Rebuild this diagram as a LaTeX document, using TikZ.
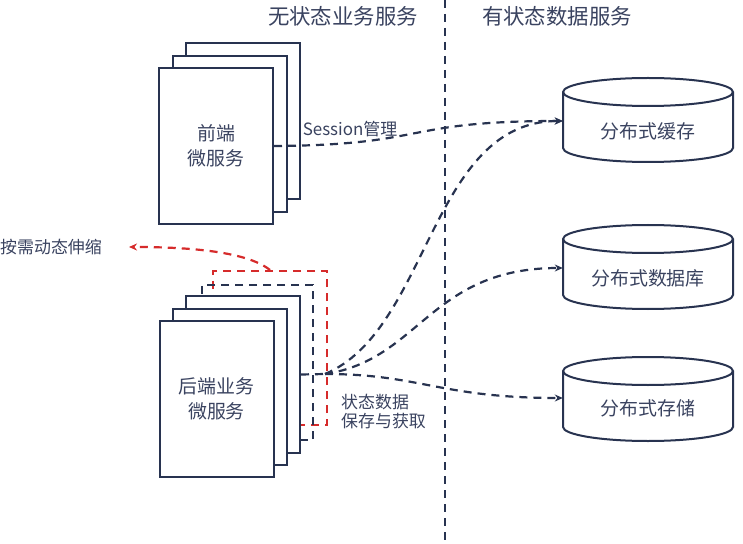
\documentclass[tikz,border=0pt]{standalone}
\usepackage{fontspec}
\setmainfont{Noto Sans CJK SC}
\usetikzlibrary{arrows.meta}
\definecolor{navy}{HTML}{283350}
\definecolor{txt}{HTML}{3A4360}
\definecolor{redd}{HTML}{D62B2B}
\tikzset{
  stackbox/.style={draw=navy, line width=2bp, fill=white, minimum width=114bp, minimum height=156bp, inner sep=0pt},
  dashbox/.style={draw=#1, line width=2bp, dash pattern=on 8bp off 6bp, inner sep=0pt},
  conn/.style={draw=navy, line width=2.2bp, dash pattern=on 8bp off 6bp, -{Stealth[length=8bp,width=7bp]}},
  cyltxt/.style={text=txt, font=\fontsize{19}{22}\selectfont},
  boxtxt/.style={text=txt, font=\fontsize{19}{25}\selectfont, align=center},
  lbl/.style={text=txt, font=\fontsize{17}{19}\selectfont, align=left, inner sep=0pt},
  hdr/.style={text=txt, font=\fontsize{21.5}{24}\selectfont},
  cylspot/.style={minimum width=170bp, minimum height=84bp, inner sep=0pt}
}
\newcommand{\drawcyl}[2]{% center x, top y
  \filldraw[draw=navy, fill=white, line width=2bp]
    (#1-85,#2+70) arc[start angle=180, end angle=360, x radius=85bp, y radius=14bp]
    -- (#1+85,#2+14) arc[start angle=0, end angle=180, x radius=85bp, y radius=14bp] -- cycle;
  \draw[navy, line width=2bp] (#1-85,#2+14) arc[start angle=180, end angle=360, x radius=85bp, y radius=14bp];
}
\begin{document}
\begin{tikzpicture}[x=1bp, y=-1bp]
\useasboundingbox (0,0) rectangle (743,544);
\fill[white] (0,0) rectangle (743,544);

% divider
\coordinate (dtop) at (445,0);
\coordinate (dbot) at (445,544);
\draw[navy, line width=2.2bp, dash pattern=on 8bp off 6bp] (dtop) -- (dbot);

% headers
\node[hdr] (h1) at (343,16) {无状态业务服务};
\node[hdr] (h2) at (557,16) {有状态数据服务};

% front stack
\node[stackbox] (f3) at (243,121.5) {};
\node[stackbox] (f2) at (229.5,134) {};
\node[stackbox, boxtxt] (f1) at (216,146) {前端\\微服务};

% back stack dashed outlines
\node[dashbox=redd, minimum width=114bp, minimum height=154bp] (rs) at (270,348) {};
\node[dashbox=navy, minimum width=111bp, minimum height=155bp] (ds) at (257.5,362.5) {};
\node[stackbox] (b3) at (243,374.5) {};
\node[stackbox] (b2) at (229.5,387) {};
\node[stackbox, boxtxt] (b1) at (216.5,399) {后端业务\\微服务};

% cylinders
\drawcyl{648}{78}
\drawcyl{648}{225}
\drawcyl{648}{357}
\node[cylspot] (c1) at (648,121) {};
\node[cylspot] (c2) at (648,268) {};
\node[cylspot] (c3) at (648,398) {};
\node[cyltxt] (t1) at (648,131) {分布式缓存};
\node[cyltxt] (t2) at (648,278) {分布式数据库};
\node[cyltxt] (t3) at (648,408) {分布式存储};

% labels
\node[lbl] (sess) at (350,129) {Session管理};
\node[lbl, anchor=west] (scale) at (0,247) {按需动态伸缩};
\node[lbl, anchor=north west, font=\fontsize{17}{19}\selectfont] (state) at (341,394) {状态数据\\保存与获取};

% connectors
\draw[conn] (f1.east) .. controls (430,145) and (400,121) .. (c1.west);
\coordinate (bs) at (325,374);
\draw[navy, line width=2.2bp, dash pattern=on 8bp off 6bp] (b3.east) -- (bs);
\draw[conn] (bs) .. controls (430,330) and (430,121) .. (c1.west);
\draw[conn] (bs) .. controls (420,360) and (430,268) .. (c2.west);
\draw[conn] (bs) .. controls (420,374) and (440,398) .. (c3.west);
\draw[draw=redd, line width=2.2bp, dash pattern=on 8bp off 6bp, -{Stealth[length=8bp,width=7bp]}, shorten >=27bp]
  (rs.north) .. controls (245,250) and (180,247) .. (scale.east);
\end{tikzpicture}
\end{document}
